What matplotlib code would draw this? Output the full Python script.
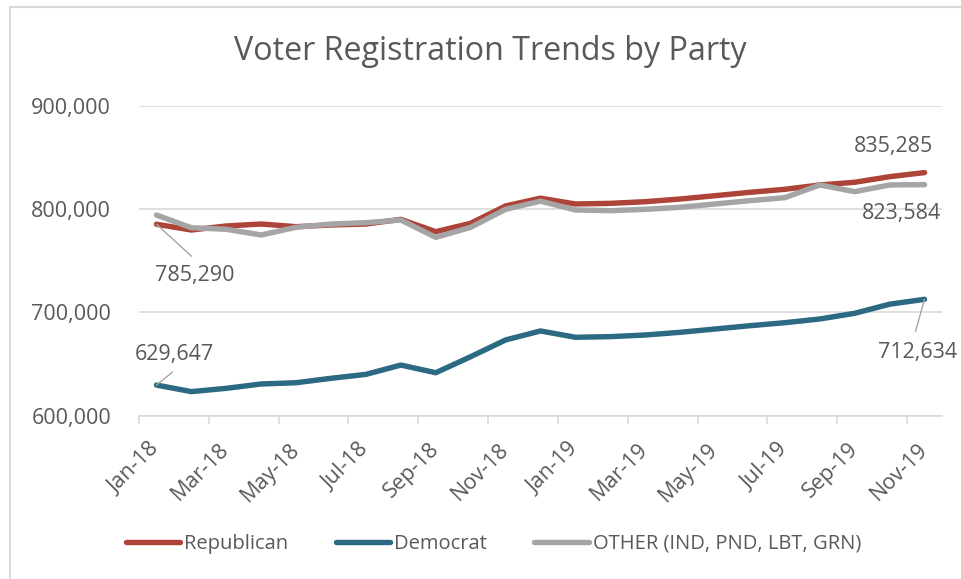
import matplotlib.pyplot as plt
from matplotlib.patches import Rectangle

# Monthly registration counts, Jan-18 .. Nov-19
months = ["Jan-18", "Feb-18", "Mar-18", "Apr-18", "May-18", "Jun-18", "Jul-18", "Aug-18",
          "Sep-18", "Oct-18", "Nov-18", "Dec-18", "Jan-19", "Feb-19", "Mar-19", "Apr-19",
          "May-19", "Jun-19", "Jul-19", "Aug-19", "Sep-19", "Oct-19", "Nov-19"]
republican = [785290, 779700, 783600, 785500, 782900, 784600, 785500, 790000, 778100, 786200,
              803000, 810500, 804900, 805500, 807100, 809700, 812900, 816200, 819100, 823300,
              825900, 831300, 835285]
democrat = [629647, 623300, 626500, 630700, 631900, 636200, 640000, 649000, 641600, 657100,
            673300, 682000, 675900, 676500, 678100, 680700, 683900, 687100, 690000, 693600,
            699100, 707900, 712634]
other = [794200, 781900, 780400, 774900, 782300, 785500, 786800, 789400, 772600, 782300,
         799700, 807600, 799100, 798400, 799700, 801700, 804900, 808100, 811000, 823300,
         816800, 823300, 823584]

series_names = ["Republican", "Democrat", "OTHER (IND, PND, LBT, GRN)"]
series_colors = ["#ae4338", "#2b6a82", "#a5a5a5"]
text_color = "#595959"
grid_color = "#d9d9d9"

plt.rcParams['font.family'] = ['Open Sans', 'DejaVu Sans']

fig = plt.figure(figsize=(9.61, 5.79), dpi=100)
ax = fig.add_axes([139 / 961, 1 - 415.7 / 579, 803 / 961, 310 / 579])

# outer chart frame (only top and left edges fall inside the image)
fig.patches.append(Rectangle((10 / 961, -0.2), 1.2, 1.2 - 7 / 579,
                             transform=fig.transFigure, fill=False,
                             edgecolor=grid_color, linewidth=1.5))

x = list(range(len(months)))
for values, name, color in zip([republican, democrat, other], series_names, series_colors):
    ax.plot(x, values, color=color, linewidth=3.9, label=name,
            solid_capstyle='round', solid_joinstyle='round')

ax.set_xlim(-0.5, len(months) - 0.5)
ax.set_ylim(600000, 900000)
ax.set_yticks([600000, 700000, 800000, 900000])
ax.set_yticklabels([f"{v:,}" for v in [600000, 700000, 800000, 900000]])
ax.yaxis.grid(True, color=grid_color, linewidth=1.2)
ax.set_axisbelow(True)

ax.set_xticks(x[::2])
ax.set_xticklabels(months[::2], rotation=45, ha='right', va='center',
                   rotation_mode='anchor')
ax.set_xticks([i - 0.5 for i in range(0, len(months) + 1, 2)], minor=True)
ax.tick_params(axis='x', which='major', length=0, pad=22, labelsize=15.5,
               labelcolor=text_color)
ax.tick_params(axis='x', which='minor', length=6, width=1.2, color=grid_color)
ax.tick_params(axis='y', length=0, pad=20, labelsize=15.5, labelcolor=text_color)

for side in ['top', 'right', 'left']:
    ax.spines[side].set_visible(False)
ax.spines['bottom'].set_color(grid_color)
ax.spines['bottom'].set_linewidth(1.2)

# data labels at the series ends
label_style = dict(textcoords='offset pixels', ha='center', va='center',
                   fontsize=15.5, color=text_color)
leader = dict(arrowstyle='-', color='#a6a6a6', lw=1, shrinkA=0, shrinkB=0)

ax.annotate(f"{republican[0]:,}", (0, republican[0]), xytext=(38, -51), **label_style)
ax.annotate("", (0, republican[0]), xytext=(35, -32), textcoords='offset pixels',
            arrowprops=leader)
ax.annotate(f"{democrat[0]:,}", (0, democrat[0]), xytext=(18, 31), **label_style)
ax.annotate("", (0, democrat[0]), xytext=(16, 13), textcoords='offset pixels',
            arrowprops=leader)
ax.annotate(f"{democrat[-1]:,}", (x[-1], democrat[-1]), xytext=(-7, -53), **label_style)
ax.annotate("", (x[-1], democrat[-1]), xytext=(-9, -32), textcoords='offset pixels',
            arrowprops=leader)
ax.annotate(f"{republican[-1]:,}", (x[-1], republican[-1]), xytext=(-31, 26), **label_style)
ax.annotate(f"{other[-1]:,}", (x[-1], other[-1]), xytext=(-23, -29), **label_style)

fig.text(490.5 / 961, 1 - 52 / 579, "Voter Registration Trends by Party", ha='center',
         va='center', fontsize=23.2, color=text_color)

fig.legend(loc='center', bbox_to_anchor=(493.5 / 961, 1 - 544 / 579), ncol=3,
           frameon=False, fontsize=14.5, handlelength=2.7, handletextpad=0.2,
           columnspacing=2.35, labelcolor=text_color)

fig.savefig("out.png", dpi=100)
